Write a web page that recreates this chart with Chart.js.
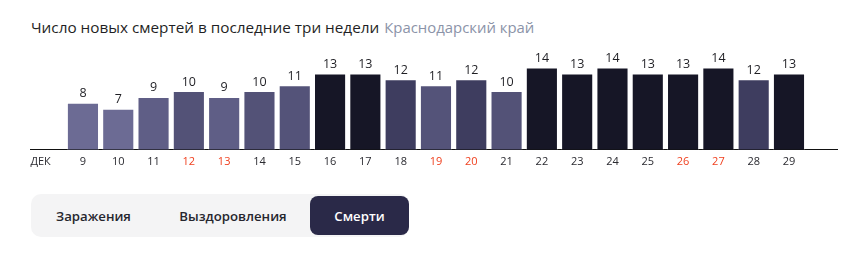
<!DOCTYPE html>
<html lang="ru">
<head>
<meta charset="utf-8">
<script src="https://cdn.jsdelivr.net/npm/chart.js@4/dist/chart.umd.min.js"></script>
<style>
  html, body { margin: 0; padding: 0; background: #fff; }
  body { width: 858px; height: 254px; position: relative; overflow: hidden; font-family: "Open Sans", sans-serif; }
  .title { position: absolute; left: 31px; top: 17px; font-size: 15.3px; color: #1f1f24; white-space: nowrap; }
  .title .region { color: #8b93a8; margin-left: 5px; font-size: 14.9px; }
  .chart-box { position: absolute; left: 0; top: 38px; width: 858px; height: 135px; }
  .tabs { position: absolute; left: 31px; top: 194px; width: 378px; height: 43px; background: #f4f4f5; border-radius: 10px; display: flex; }
  .tab { height: 39px; margin-top: 2px; display: flex; align-items: center; justify-content: center; font-size: 13.2px; font-weight: 600; color: #26262e; }
  .tab.active { background: #2a2948; color: #fff; border-radius: 8px; }
</style>
</head>
<body>
<div class="title">Число новых смертей в последние три недели<span class="region">Краснодарский край</span></div>
<div class="chart-box"><canvas id="deathsChart"></canvas></div>
<div class="tabs">
  <div class="tab" style="width:125px">Заражения</div>
  <div class="tab" style="width:154px">Выздоровления</div>
  <div class="tab active" style="width:99px">Смерти</div>
</div>
<script>
const monthLabel = "ДЕК";
const days = [9, 10, 11, 12, 13, 14, 15, 16, 17, 18, 19, 20, 21, 22, 23, 24, 25, 26, 27, 28, 29];
const deaths = [8, 7, 9, 10, 9, 10, 11, 13, 13, 12, 11, 12, 10, 14, 13, 14, 13, 13, 14, 12, 13];
const weekendDays = [12, 13, 19, 20, 26, 27];

// colour of a bar depends on its value
function barColor(v) {
  if (v >= 13) return "#161626";
  if (v === 12) return "#3e3d5f";
  if (v === 11) return "#545379";
  if (v === 10) return "#535277";
  if (v === 9) return "#5f5e86";
  return "#6c6b94";
}

const valueLabels = {
  id: "valueLabels",
  afterDatasetsDraw(chart) {
    const ctx = chart.ctx;
    const meta = chart.getDatasetMeta(0);
    ctx.save();
    ctx.font = "12.5px 'Open Sans', sans-serif";
    ctx.fillStyle = "#1f1f24";
    ctx.textAlign = "center";
    ctx.textBaseline = "middle";
    meta.data.forEach((bar, i) => {
      ctx.fillText(String(deaths[i]), bar.x, bar.y - 9);
    });
    ctx.restore();
  }
};

new Chart(document.getElementById("deathsChart"), {
  type: "bar",
  data: {
    datasets: [{
      data: days.map((d, i) => ({ x: d, y: deaths[i] })),
      backgroundColor: deaths.map(barColor),
      borderColor: "rgba(255,255,255,0.45)",
      borderWidth: 1,
      categoryPercentage: 1,
      barPercentage: 0.91
    }]
  },
  options: {
    responsive: true,
    maintainAspectRatio: false,
    animation: false,
    layout: { padding: { left: 30, right: 21, top: 6, bottom: 0 } },
    plugins: { legend: { display: false }, tooltip: { enabled: false } },
    scales: {
      x: {
        type: "linear",
        offset: false,
        min: 7.5,
        max: 30.36,
        grid: { display: false, drawTicks: false, offset: false },
        border: { display: true, color: "#111", width: 1 },
        afterBuildTicks(scale) {
          scale.ticks = [{ value: 7.8 }].concat(days.map(d => ({ value: d })));
        },
        ticks: {
          autoSkip: false,
          maxRotation: 0,
          padding: 5,
          font: { family: "'Open Sans', sans-serif", size: 11 },
          color: ctx => weekendDays.includes(ctx.tick.value) ? "#f0401f" : "#2a2a30",
          callback: v => (v === 7.8 ? monthLabel : String(v))
        }
      },
      y: { display: false, min: 0, max: 18 }
    }
  },
  plugins: [valueLabels]
});
</script>
</body>
</html>
